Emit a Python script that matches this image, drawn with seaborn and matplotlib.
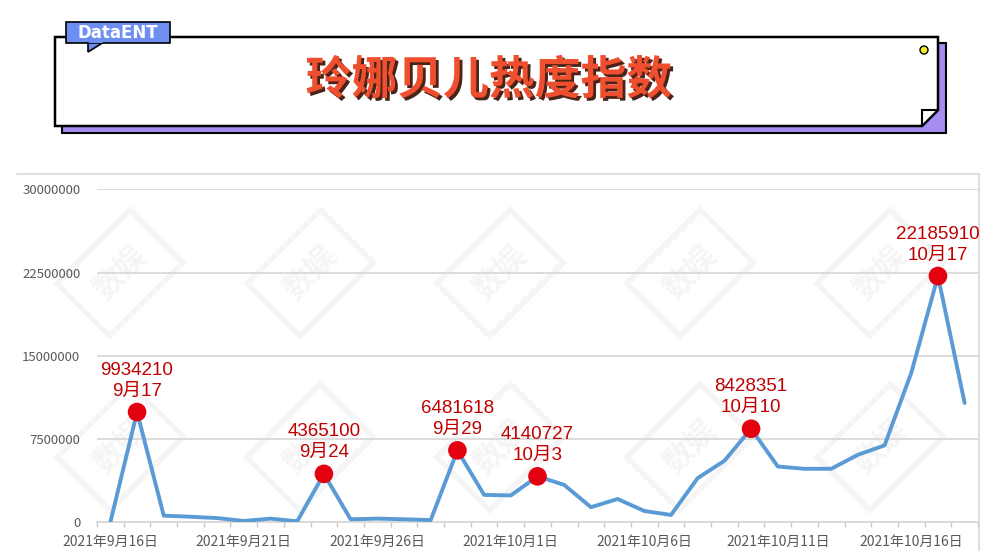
import matplotlib
matplotlib.use("Agg")
import numpy as np
import pandas as pd
import matplotlib.pyplot as plt
import matplotlib.patches as mpatches
import matplotlib.patheffects as pe
import seaborn as sns

# daily heat index, 2021-09-16 .. 2021-10-18
days = ["9-16", "9-17", "9-18", "9-19", "9-20", "9-21", "9-22", "9-23", "9-24",
        "9-25", "9-26", "9-27", "9-28", "9-29", "9-30", "10-1", "10-2", "10-3",
        "10-4", "10-5", "10-6", "10-7", "10-8", "10-9", "10-10", "10-11", "10-12",
        "10-13", "10-14", "10-15", "10-16", "10-17", "10-18"]
heat = [0, 9934210, 600000, 500000, 380000, 120000, 330000, 90000, 4365100,
        270000, 330000, 270000, 200000, 6481618, 2470000, 2420000, 4140727,
        3370000, 1360000, 2100000, 1020000, 660000, 3980000, 5540000, 8428351,
        5030000, 4820000, 4820000, 6080000, 6930000, 13460000, 22185910, 10750000]

tick_days = ["9-16", "9-21", "9-26", "10-1", "10-6", "10-11", "10-16"]
tick_labels = ["2021年9月16日", "2021年9月21日", "2021年9月26日", "2021年10月1日",
               "2021年10月6日", "2021年10月11日", "2021年10月16日"]

peak_days = ["9-17", "9-24", "9-29", "10-2", "10-10", "10-17"]
peak_labels = ["9月17", "9月24", "9月29", "10月3", "10月10", "10月17"]

y_ticks = [0, 7500000, 15000000, 22500000, 30000000]

df = pd.DataFrame({"day": days, "heat": heat})
df["pos"] = np.arange(len(df))
peaks = df[df["day"].isin(peak_days)].copy()
peaks["label"] = peak_labels

sns.set_theme(style="white")
plt.rcParams["font.family"] = ["Noto Sans CJK SC", "DejaVu Sans"]

fig = plt.figure(figsize=(10, 5.51), dpi=100)
fig.patch.set_facecolor("white")

# overlay in pixel coordinates for the header, frame and watermarks
bg = fig.add_axes([0, 0, 1, 1], zorder=0)
bg.set_xlim(0, 1000)
bg.set_ylim(551, 0)
bg.axis("off")

for wx in [120, 310, 500, 690, 880]:
    for wy in [273, 447]:
        bg.text(wx, wy, "数娱", rotation=45, ha="center", va="center", fontsize=22,
                color="#f5f5f5", fontweight="bold",
                bbox=dict(boxstyle="square,pad=0.7", fc="none", ec="#f5f5f5", lw=4))

# chart frame
bg.plot([17, 979], [174, 174], color="#d9d9d9", lw=1.2)
bg.plot([979, 979], [174, 551], color="#d9d9d9", lw=1.2)

# header card
bg.add_patch(mpatches.Rectangle((62, 43), 884, 90, fc="#a48cf0", ec="black", lw=1.5))
bg.add_patch(mpatches.Polygon([(55, 37), (938, 37), (938, 110), (922, 126), (55, 126)],
                              closed=True, fc="white", ec="black", lw=1.8))
bg.add_patch(mpatches.Polygon([(922, 126), (922, 110), (938, 110)],
                              closed=True, fc="white", ec="black", lw=1.5))
bg.add_patch(mpatches.Circle((924, 50), 4, fc="#f7e930", ec="black", lw=1))
bg.add_patch(mpatches.Polygon([(88, 42), (88, 52), (104, 42)], closed=True,
                              fc="#6e8ef2", ec="black", lw=1.2))
bg.add_patch(mpatches.Rectangle((66, 22), 104, 21, fc="#6e8ef2", ec="black", lw=1.2))
bg.add_patch(mpatches.Rectangle((89, 40), 14, 3, fc="#6e8ef2", ec="none"))
bg.text(118, 32.5, "DataENT", ha="center", va="center", fontsize=12,
        color="white", fontweight="bold", family=["DejaVu Sans"])

bg.text(489, 81, "玲娜贝儿热度指数", ha="center", va="center", fontsize=33,
        fontweight="bold", color="#f04f2f",
        path_effects=[pe.SimplePatchShadow(offset=(2, -2), shadow_rgbFace="#4a2418",
                                           alpha=1), pe.Normal()])

# main chart
ax = fig.add_axes([0.097, 0.0521, 0.881, 0.6043], zorder=2)
ax.set_facecolor("none")

sns.lineplot(data=df, x="pos", y="heat", color="#5b9bd5", lw=2.8, ax=ax, zorder=3)
sns.scatterplot(data=peaks, x="pos", y="heat", color="#e3000f", s=180,
                edgecolor="none", ax=ax, zorder=4)

for _, r in peaks.iterrows():
    ax.annotate(r["label"], (r["pos"], r["heat"]), xytext=(0, 21),
                textcoords="offset pixels", ha="center", va="center",
                fontsize=13.5, color="#c00000", zorder=5,
                family=["Liberation Sans", "Noto Sans CJK SC"])
    ax.annotate(f"{r['heat']}", (r["pos"], r["heat"]), xytext=(0, 42),
                textcoords="offset pixels", ha="center", va="center",
                fontsize=13.5, color="#c00000", zorder=5,
                family=["Liberation Sans", "Noto Sans CJK SC"])

ax.set_xlim(-0.5, len(df) - 0.5)
ax.set_ylim(0, 30000000)
ax.set_yticks(y_ticks)
ax.set_yticklabels([str(v) for v in y_ticks], fontsize=9.5, color="#595959")
ax.set_xticks([days.index(d) for d in tick_days])
ax.set_xticklabels(tick_labels, fontsize=10, color="#595959")
ax.set_xticks(np.arange(-0.5, len(df), 1), minor=True)
ax.tick_params(axis="x", which="major", length=0, pad=9)
ax.tick_params(axis="x", which="minor", length=3.5, color="#c8c8c8", width=1,
               direction="out", bottom=True)
ax.tick_params(axis="y", length=0, pad=12)
ax.grid(axis="y", color="#d9d9d9", lw=1.3)
ax.set_axisbelow(True)
ax.set_xlabel("")
ax.set_ylabel("")
for side in ["top", "right", "left"]:
    ax.spines[side].set_visible(False)
ax.spines["bottom"].set_color("#d9d9d9")
ax.spines["bottom"].set_linewidth(1.3)

plt.savefig("out.png", dpi=100)
plt.close()
